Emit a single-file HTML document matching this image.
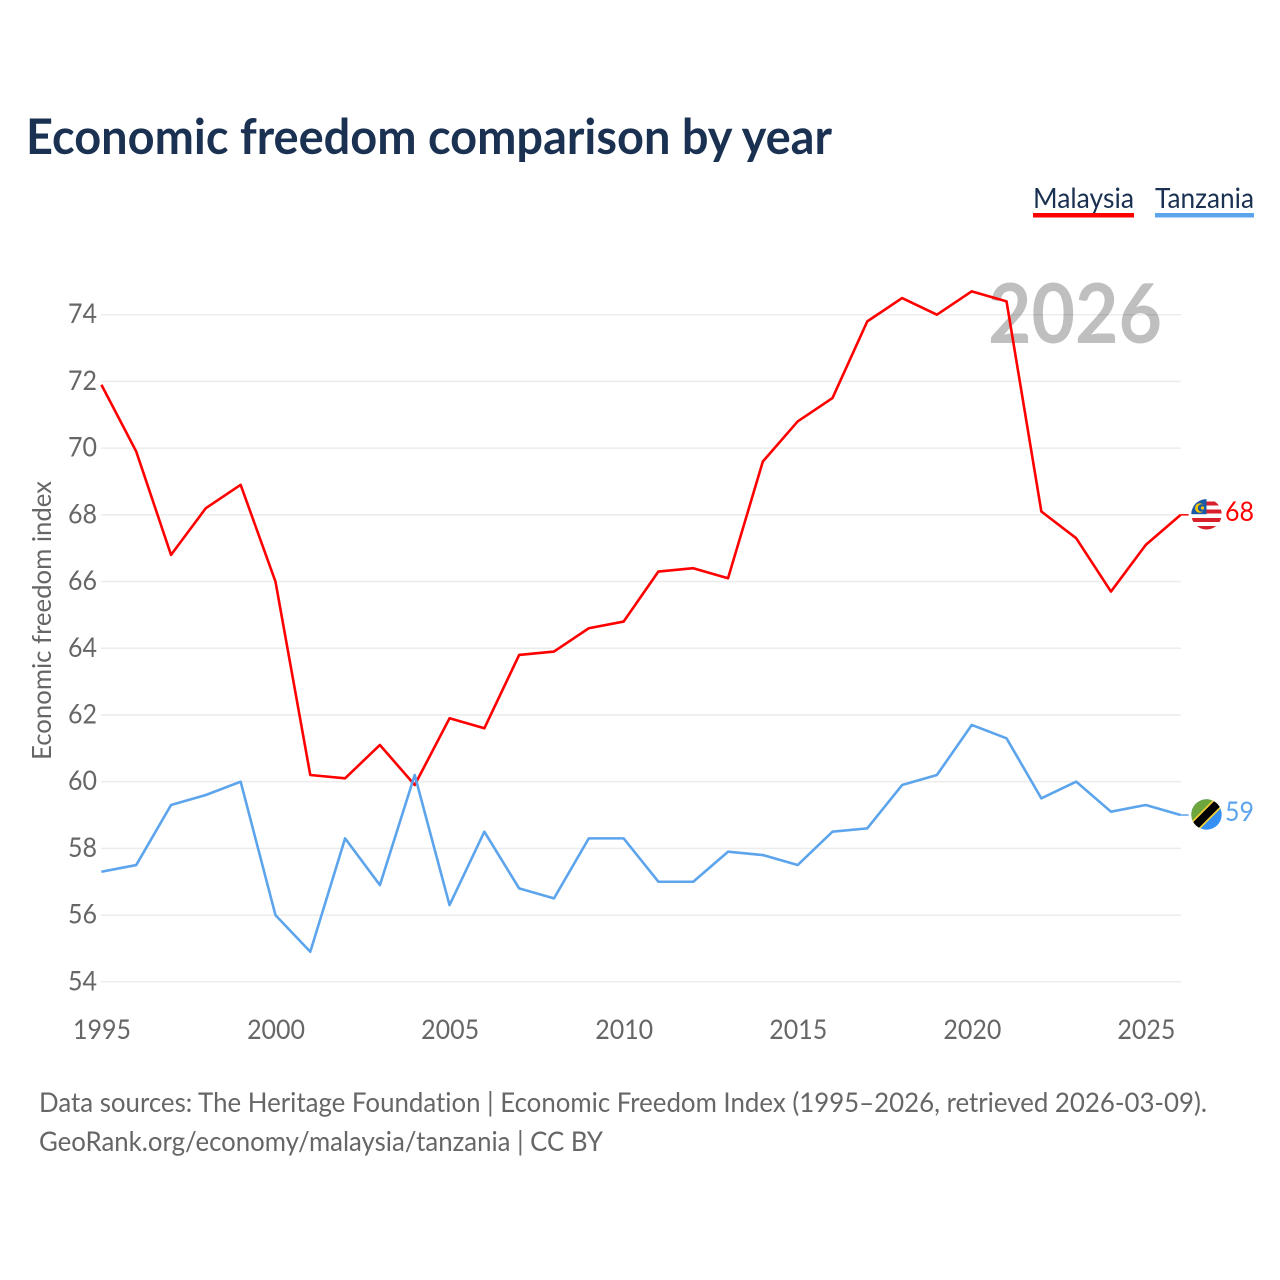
<!DOCTYPE html>
<html lang="en">
<head>
<meta charset="utf-8">
<title>Economic freedom comparison by year</title>
<style>
html,body{margin:0;padding:0;background:#fff;width:1280px;height:1280px;overflow:hidden}
svg{display:block}
text{font-family:"Lato","Carlito","Liberation Sans",sans-serif;font-variant-ligatures:none}
</style>
</head>
<body>
<svg id="chart" width="1280" height="1280" viewBox="0 0 1280 1280" xmlns="http://www.w3.org/2000/svg">
  <defs>
    <clipPath id="flag-clip-my"><circle cx="1206.5" cy="514.3" r="15.2"/></clipPath>
    <clipPath id="flag-clip-tz"><circle cx="1206.5" cy="814.5" r="15.2"/></clipPath>
  </defs>
  <text x="26" y="154" font-size="49" font-weight="700" fill="#1a3152" textLength="806" lengthAdjust="spacingAndGlyphs">Economic freedom comparison by year</text>

  <g>
    <g>
      <text x="1033" y="208" font-size="28" fill="#1a3152" textLength="101" lengthAdjust="spacingAndGlyphs">Malaysia</text>
      <rect x="1033" y="213" width="101" height="4.5" fill="#ff0000"/>
    </g>
    <g>
      <text x="1155" y="208" font-size="28" fill="#1a3152" textLength="99" lengthAdjust="spacingAndGlyphs">Tanzania</text>
      <rect x="1155" y="213" width="99" height="4.5" fill="#5ca4ec"/>
    </g>
  </g>

  <g id="grid"></g>
  <text x="988" y="343" font-size="82" font-weight="700" fill="#000000" fill-opacity="0.25" textLength="174" lengthAdjust="spacingAndGlyphs">2026</text>
  <g id="y-ticks"></g>
  <g id="x-ticks"></g>
  <text transform="translate(51 620.5) rotate(-90)" text-anchor="middle" font-size="26" fill="#666666" textLength="279" lengthAdjust="spacingAndGlyphs">Economic freedom index</text>
  <g id="series"></g>

  <g clip-path="url(#flag-clip-my)">
    <rect x="1191" y="499" width="31" height="31" fill="#ffffff"/>
    <rect x="1191" y="501.5" width="31" height="4" fill="#d8202c"/>
    <rect x="1191" y="509.5" width="31" height="4" fill="#d8202c"/>
    <rect x="1191" y="518" width="31" height="4" fill="#d8202c"/>
    <rect x="1191" y="526" width="31" height="4" fill="#d8202c"/>
    <rect x="1191" y="499" width="15.5" height="15.2" fill="#1b5aa6"/>
    <circle cx="1199.8" cy="508" r="4.8" fill="#f7c600"/>
    <circle cx="1201.5" cy="508" r="3.7" fill="#1b5aa6"/>
    <circle cx="1202.5" cy="508" r="1.6" fill="#f7c600"/>
  </g>
  <g clip-path="url(#flag-clip-tz)">
    <rect x="1191" y="799" width="31" height="31" fill="#3490f5"/>
    <polygon points="1191,799 1222,799 1191,830" fill="#6ea53c"/>
    <line x1="1191" y1="830" x2="1222" y2="799" stroke="#f2cf3a" stroke-width="11.5"/>
    <line x1="1191" y1="830" x2="1222" y2="799" stroke="#000000" stroke-width="8"/>
  </g>

  <text x="1225" y="521" font-size="27" fill="#ff0000" textLength="29" lengthAdjust="spacingAndGlyphs">68</text>
  <text x="1225" y="821" font-size="27" fill="#5ca4ec" textLength="29" lengthAdjust="spacingAndGlyphs">59</text>

  <g>
    <text x="39" y="1112" font-size="27" fill="#666666" textLength="1168" lengthAdjust="spacingAndGlyphs">Data sources: The Heritage Foundation | Economic Freedom Index (1995–2026, retrieved 2026-03-09).</text>
    <text x="39" y="1151" font-size="27" fill="#666666" textLength="564" lengthAdjust="spacingAndGlyphs">GeoRank.org/economy/malaysia/tanzania | CC BY</text>
  </g>
</svg>
<script>
const years = [1995,1996,1997,1998,1999,2000,2001,2002,2003,2004,2005,2006,2007,2008,2009,2010,2011,2012,2013,2014,2015,2016,2017,2018,2019,2020,2021,2022,2023,2024,2025,2026];
const malaysia = [71.9,69.9,66.8,68.2,68.9,66.0,60.2,60.1,61.1,59.9,61.9,61.6,63.8,63.9,64.6,64.8,66.3,66.4,66.1,69.6,70.8,71.5,73.8,74.5,74.0,74.7,74.4,68.1,67.3,65.7,67.1,68.0];
const tanzania = [57.3,57.5,59.3,59.6,60.0,56.0,54.9,58.3,56.9,60.2,56.3,58.5,56.8,56.5,58.3,58.3,57.0,57.0,57.9,57.8,57.5,58.5,58.6,59.9,60.2,61.7,61.3,59.5,60.0,59.1,59.3,59.0];
const yTicks = [54,56,58,60,62,64,66,68,70,72,74];
const xTicks = [1995,2000,2005,2010,2015,2020,2025];

const NS = 'http://www.w3.org/2000/svg';
function xScale(year){ return 101.4 + (year - 1995) * (1180.6 - 101.4) / (2026 - 1995); }
function yScale(v){ return 981.8 - (v - 54) * (981.8 - 314.7) / (74 - 54); }

const grid = document.getElementById('grid');
const yGroup = document.getElementById('y-ticks');
yTicks.forEach(function(t){
  const l = document.createElementNS(NS,'line');
  
  
  l.setAttribute('x1', 101);
  l.setAttribute('x2', 1181);
  l.setAttribute('y1', yScale(t));
  l.setAttribute('y2', yScale(t));
  l.setAttribute('stroke', '#ececec');
  l.setAttribute('stroke-width', '1.5');
  grid.appendChild(l);
  const s = document.createElementNS(NS,'text');
  
  
  s.setAttribute('x', 97);
  s.setAttribute('y', yScale(t) + 8.5);
  s.setAttribute('text-anchor', 'end');
  s.setAttribute('font-size', '27');
  s.setAttribute('fill', '#666666');
  s.setAttribute('textLength', '29');
  s.setAttribute('lengthAdjust', 'spacingAndGlyphs');
  s.textContent = t;
  yGroup.appendChild(s);
});

const xGroup = document.getElementById('x-ticks');
xTicks.forEach(function(t){
  const s = document.createElementNS(NS,'text');
  
  
  s.setAttribute('x', xScale(t) + 0.6);
  s.setAttribute('y', 1039);
  s.setAttribute('text-anchor', 'middle');
  s.setAttribute('font-size', '27');
  s.setAttribute('fill', '#666666');
  s.setAttribute('textLength', '58');
  s.setAttribute('lengthAdjust', 'spacingAndGlyphs');
  s.textContent = t;
  xGroup.appendChild(s);
});

const seriesGroup = document.getElementById('series');
function linePoints(values){
  return values.map(function(v,i){ return xScale(years[i]).toFixed(2) + ',' + yScale(v).toFixed(2); }).join(' ');
}
const lineMalaysia = document.createElementNS(NS,'polyline');


lineMalaysia.setAttribute('points', linePoints(malaysia));
lineMalaysia.setAttribute('fill', 'none');
lineMalaysia.setAttribute('stroke', '#ff0000');
lineMalaysia.setAttribute('stroke-width', '2.6');
lineMalaysia.setAttribute('stroke-linejoin', 'round');
seriesGroup.appendChild(lineMalaysia);

const lineTanzania = document.createElementNS(NS,'polyline');


lineTanzania.setAttribute('points', linePoints(tanzania));
lineTanzania.setAttribute('fill', 'none');
lineTanzania.setAttribute('stroke', '#5ca4ec');
lineTanzania.setAttribute('stroke-width', '2.6');
lineTanzania.setAttribute('stroke-linejoin', 'round');
seriesGroup.appendChild(lineTanzania);

const connectorMalaysia = document.createElementNS(NS,'line');


connectorMalaysia.setAttribute('x1', xScale(2026));
connectorMalaysia.setAttribute('x2', xScale(2026) + 8);
connectorMalaysia.setAttribute('y1', yScale(malaysia[malaysia.length - 1]));
connectorMalaysia.setAttribute('y2', yScale(malaysia[malaysia.length - 1]));
connectorMalaysia.setAttribute('stroke', '#ff0000');
connectorMalaysia.setAttribute('stroke-width', '1.5');
seriesGroup.appendChild(connectorMalaysia);

const connectorTanzania = document.createElementNS(NS,'line');


connectorTanzania.setAttribute('x1', xScale(2026));
connectorTanzania.setAttribute('x2', xScale(2026) + 8);
connectorTanzania.setAttribute('y1', yScale(tanzania[tanzania.length - 1]));
connectorTanzania.setAttribute('y2', yScale(tanzania[tanzania.length - 1]));
connectorTanzania.setAttribute('stroke', '#5ca4ec');
connectorTanzania.setAttribute('stroke-width', '1.5');
seriesGroup.appendChild(connectorTanzania);
</script>
</body>
</html>
